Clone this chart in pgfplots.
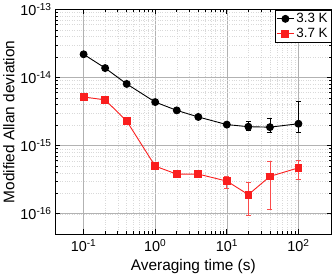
\documentclass[border=0pt]{standalone}
\usepackage{fontspec}
\setmainfont{Liberation Sans}
\usepackage{pgfplots}
\pgfplotsset{compat=1.18}
\definecolor{myred}{RGB}{250,30,30}
\begin{document}
\begin{tikzpicture}
\begin{axis}[
  xmode=log, ymode=log,
  scale only axis,
  width=278pt, height=226pt,
  xmin=0.04, xmax=290,
  ymin=5e-17, ymax=1e-13,
  xtick={0.1,1,10,100},
  ytick={1e-16,1e-15,1e-14,1e-13},
  xticklabel={\pgfmathparse{int(round(\tick/ln(10)))}10\textsuperscript{\pgfmathresult}},
  yticklabel={\pgfmathparse{int(round(\tick/ln(10)))}10\textsuperscript{\pgfmathresult}},
  tick align=inside,
  xtick pos=both, ytick pos=both,
  major tick length=5pt, minor tick length=3pt,
  grid=both,
  major grid style={gray!60, line width=0.6pt},
  minor grid style={gray!30, dotted, line width=0.5pt},
  axis line style={line width=0.9pt},
  tick style={black, line width=0.7pt},
  ticklabel style={font=\fontsize{14.5}{16}\selectfont},
  xticklabel style={yshift=-2pt},
  label style={font=\fontsize{15.5}{18}\selectfont},
  xlabel={Averaging time (s)},
  ylabel={Modified Allan deviation},
  xlabel style={yshift=0pt},
  ylabel style={yshift=-1pt},
  legend style={at={(1,1)}, anchor=north east, font=\fontsize{13.5}{15}\selectfont, draw=black, line width=0.8pt, inner sep=1.5pt, row sep=0pt},
  legend image post style={mark size=3.5pt},
  legend cell align=left,
]
\addplot[black, line width=0.9pt, mark=*, mark size=3.5pt,
  error bars/.cd, y dir=both, y explicit, error bar style={line width=0.7pt}, error mark options={rotate=90, mark size=2.5pt}]
  table[x=x, y=y, y error plus=ep, y error minus=em] {
  x y ep em
  0.1 2.2e-14 0 0
  0.2 1.38e-14 0 0
  0.4 8.07e-15 0 0
  1 4.37e-15 0 0
  2 3.3e-15 0 0
  4 2.64e-15 0 0
  10 2.04e-15 0.1e-15 0.1e-15
  20 1.9e-15 0.4e-15 0.2e-15
  40 1.87e-15 0.7e-15 0.27e-15
  100 2.1e-15 2.4e-15 0.5e-15
  };
\addlegendentry{3.3 K}
\addplot[myred, line width=0.9pt, mark=square*, mark size=3.4pt,
  error bars/.cd, y dir=both, y explicit, error bar style={line width=0.7pt, myred!80}, error mark options={rotate=90, mark size=2.5pt, myred!80}]
  table[x=x, y=y, y error plus=ep, y error minus=em] {
  x y ep em
  0.1 5.2e-15 0 0
  0.2 4.7e-15 0 0
  0.4 2.3e-15 0 0
  1 5.0e-16 0 0
  2 3.82e-16 0 0
  4 3.82e-16 0 0
  10 3.02e-16 0.58e-16 0.62e-16
  20 1.91e-16 0.99e-16 0.96e-16
  40 3.54e-16 2.31e-16 2.38e-16
  100 4.72e-16 1.48e-16 1.52e-16
  };
\addlegendentry{3.7 K}
\end{axis}
\end{tikzpicture}
\end{document}
